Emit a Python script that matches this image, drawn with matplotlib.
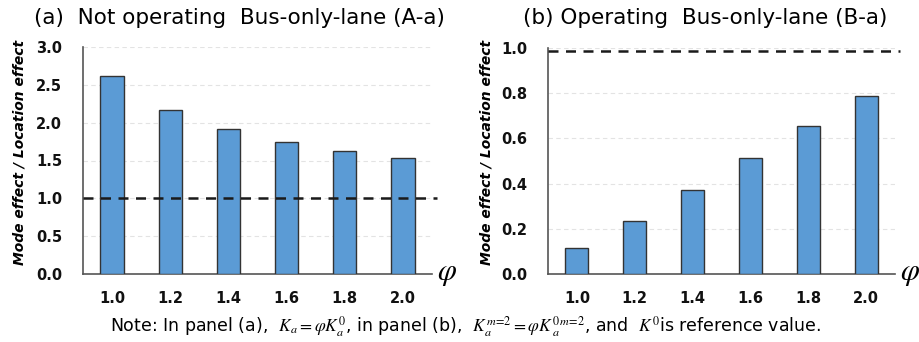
import matplotlib
matplotlib.use('Agg')
import matplotlib.pyplot as plt

# data
phi_labels = ['1.0', '1.2', '1.4', '1.6', '1.8', '2.0']
ratio_a = [2.62, 2.17, 1.91, 1.74, 1.62, 1.53]
ratio_b = [0.115, 0.234, 0.37, 0.515, 0.655, 0.788]
ref_a = 1.0
ref_b = 0.985
yticks_a = [0.0, 0.5, 1.0, 1.5, 2.0, 2.5, 3.0]
yticks_b = [0.0, 0.2, 0.4, 0.6, 0.8, 1.0]

plt.rcParams['font.family'] = ['DejaVu Sans']
plt.rcParams['mathtext.fontset'] = 'stix'

W, H = 920, 342
fig = plt.figure(figsize=(W / 100, H / 100), dpi=100)

bar_color = '#5B9BD5'
edge_color = '#333333'


def draw_panel(ax, values, ref, yticks, title, title_x):
    x = list(range(len(values)))
    ax.bar(x, values, width=0.4, color=bar_color, edgecolor=edge_color,
           linewidth=1.0, zorder=3)
    ax.set_xlim(-0.5, len(values) - 0.5)
    ax.set_ylim(yticks[0], yticks[-1])
    ax.set_yticks(yticks)
    ax.set_yticklabels([f'{t:.1f}' for t in yticks], fontweight='bold', fontsize=10.5)
    ax.set_xticks(x)
    ax.set_xticklabels(phi_labels, fontweight='bold', fontsize=10.5)
    ax.tick_params(axis='both', length=0, colors='#111111')
    ax.tick_params(axis='y', pad=15)
    ax.tick_params(axis='x', pad=12)
    # light dashed gridlines
    for t in yticks[1:]:
        ax.axhline(t, color='#e3e3e3', lw=0.8, ls=(0, (4, 3)), zorder=1)
    # reference line
    ax.plot([-0.5, len(values) - 0.42], [ref, ref], color='#1a1a1a', lw=1.8,
            ls=(0, (4, 3)), zorder=4, clip_on=False)
    for s in ['top', 'right']:
        ax.spines[s].set_visible(False)
    for s in ['left', 'bottom']:
        ax.spines[s].set_color('#555555')
        ax.spines[s].set_linewidth(1.2)
    ax.text(1.015, 0.0, r'$\varphi$', transform=ax.transAxes, fontsize=22,
            ha='left', va='center')
    fig.text(title_x / W, 1 - 18 / H, title, fontsize=15.5, ha='center', va='center')


ax_a = fig.add_axes([83 / W, 68 / H, 349 / W, 227 / H])
draw_panel(ax_a, ratio_a, ref_a, yticks_a, '(a)  Not operating  Bus-only-lane (A-a)', 239)

ax_b = fig.add_axes([548 / W, 68 / H, 347 / W, 226 / H])
draw_panel(ax_b, ratio_b, ref_b, yticks_b, '(b) Operating  Bus-only-lane (B-a)', 705)

ylab = 'Mode effect / Location effect'
fig.text(20 / W, 1 - 152 / H, ylab, rotation=90, fontsize=10, fontweight='bold',
         style='italic', ha='center', va='center')
fig.text(487 / W, 1 - 152 / H, ylab, rotation=90, fontsize=10, fontweight='bold',
         style='italic', ha='center', va='center')

note = (r'Note: In panel (a),  $K_a=\varphi K_a^0$, in panel (b),  '
        r'$K_a^{m\!=\!2}=\varphi K^{0\,m\!=\!2}_{\;a}$, and  $K^0$is reference value.')
fig.text(466 / W, 1 - 327 / H, note, fontsize=12.5, ha='center', va='center')

fig.savefig('out.png', dpi=100)
